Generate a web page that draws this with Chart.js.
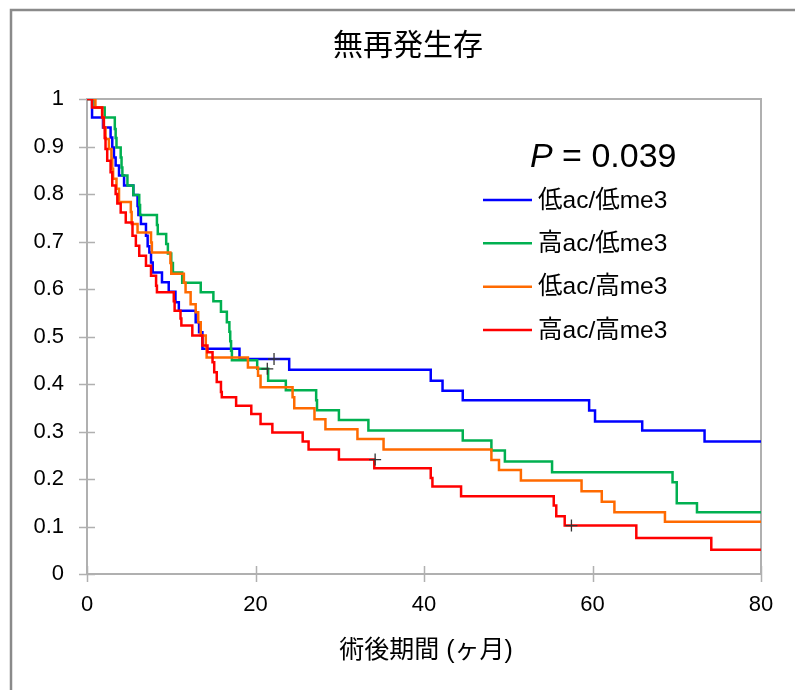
<!DOCTYPE html>
<html><head><meta charset="utf-8">
<script src="https://cdn.jsdelivr.net/npm/chart.js@4.4.1/dist/chart.umd.min.js"></script>
<style>html,body{margin:0;padding:0;background:#fff;} canvas{display:block;}</style>
</head><body>
<canvas id="c" width="795" height="690"></canvas>
<script>
const chartTitle = '無再発生存';
const xAxisTitle = '術後期間 (ヶ月)';
const pLabel = 'P';
const pValue = ' = 0.039';
const seriesLabels = ['低ac/低me3', '高ac/低me3', '低ac/高me3', '高ac/高me3'];
const seriesColors = ['#0000ff', '#00b050', '#ff6a00', '#ff0000'];

const xTicks = [0, 20, 40, 60, 80];
const xTickLabels = ['0', '20', '40', '60', '80'];
const yTicks = [0, 0.1, 0.2, 0.3, 0.4, 0.5, 0.6, 0.7, 0.8, 0.9, 1];
const yTickLabels = ['0', '0.1', '0.2', '0.3', '0.4', '0.5', '0.6', '0.7', '0.8', '0.9', '1'];

// 低ac/低me3 (blue)
const blueT = [0, 0.6, 1.9, 2.8, 3.0, 3.2, 3.4, 3.8, 4.4, 5.5, 6.0, 6.1, 6.4, 7.0, 7.2, 7.4, 7.6, 7.8, 8.9, 9.7, 10.5, 10.9, 12.9, 13.3, 13.7, 18.1, 24.0, 40.8, 42.2, 44.6, 59.6, 60.3, 65.9, 73.3, 80];
const blueS = [1, 0.961, 0.94, 0.919, 0.898, 0.877, 0.86, 0.839, 0.818, 0.798, 0.775, 0.756, 0.737, 0.712, 0.69, 0.677, 0.656, 0.635, 0.614, 0.594, 0.572, 0.554, 0.53, 0.509, 0.474, 0.4526, 0.43, 0.407, 0.386, 0.366, 0.344, 0.321, 0.302, 0.279, 0.279];

// 高ac/低me3 (green)
const greenT = [0, 0.9, 2.1, 3.3, 3.4, 3.5, 4.0, 4.1, 4.2, 4.8, 5.5, 6.2, 6.3, 8.3, 8.4, 9.4, 9.6, 10.0, 10.2, 11.3, 13.5, 15.0, 15.9, 16.6, 16.9, 17.0, 17.1, 17.2, 20.2, 21.5, 23.6, 27.2, 27.3, 29.9, 33.4, 44.6, 48.0, 49.6, 55.2, 69.5, 70.0, 72.4, 80];
const greenS = [1, 0.982, 0.961, 0.937, 0.918, 0.898, 0.877, 0.856, 0.839, 0.818, 0.798, 0.777, 0.756, 0.735, 0.716, 0.695, 0.675, 0.655, 0.635, 0.613, 0.593, 0.574, 0.552, 0.53, 0.51, 0.49, 0.47, 0.45, 0.432, 0.407, 0.387, 0.366, 0.345, 0.324, 0.302, 0.281, 0.26, 0.237, 0.214, 0.193, 0.149, 0.13, 0.13];

// 低ac/高me3 (orange)
const orangeT = [0, 1.0, 1.8, 2.0, 2.2, 2.6, 2.9, 3.0, 3.1, 3.5, 3.8, 5.2, 5.3, 6.0, 7.6, 7.7, 9.9, 10.0, 11.5, 11.7, 12.3, 12.9, 13.2, 13.5, 14.1, 14.2, 19.1, 20.3, 20.6, 24.4, 24.6, 27.0, 28.3, 32.1, 35.2, 48.0, 48.9, 51.5, 58.7, 61.1, 62.6, 68.6, 80];
const orangeS = [1, 0.982, 0.961, 0.94, 0.916, 0.895, 0.874, 0.853, 0.832, 0.811, 0.783, 0.762, 0.737, 0.719, 0.698, 0.677, 0.655, 0.632, 0.613, 0.593, 0.568, 0.551, 0.53, 0.502, 0.479, 0.456, 0.435, 0.4175, 0.393, 0.372, 0.349, 0.326, 0.305, 0.284, 0.262, 0.24, 0.219, 0.197, 0.174, 0.152, 0.13, 0.11, 0.11];

// 高ac/高me3 (red)
const redT = [0, 0.6, 1.8, 2.0, 2.1, 2.2, 2.4, 2.8, 3.0, 3.4, 3.6, 4.0, 4.6, 5.4, 5.8, 6.2, 7.0, 7.6, 8.2, 8.3, 10.3, 10.4, 11.1, 11.2, 12.5, 13.7, 14.3, 14.9, 15.1, 15.4, 15.9, 16.0, 17.7, 19.5, 20.6, 22.0, 25.6, 26.3, 29.9, 34.1, 40.8, 41.0, 44.4, 55.4, 55.7, 56.7, 65.2, 74.1, 80];
const redS = [1, 0.982, 0.961, 0.94, 0.918, 0.895, 0.87, 0.846, 0.818, 0.8, 0.78, 0.761, 0.74, 0.712, 0.691, 0.67, 0.649, 0.628, 0.607, 0.593, 0.574, 0.554, 0.538, 0.523, 0.502, 0.481, 0.467, 0.446, 0.425, 0.404, 0.383, 0.372, 0.354, 0.337, 0.316, 0.298, 0.279, 0.262, 0.241, 0.2225, 0.202, 0.184, 0.1635, 0.144, 0.1215, 0.102, 0.076, 0.051, 0.051];

// censored marks (+)
const censorT = [22.2, 21.4, 34.2, 57.5];
const censorS = [0.4526, 0.432, 0.241, 0.102];

const FONT = '"Liberation Sans", "Noto Sans CJK JP", Arial, sans-serif';
const toPts = (T, S) => T.map((t, i) => ({x: t, y: S[i]}));
const seriesT = [blueT, greenT, orangeT, redT];
const seriesS = [blueS, greenS, orangeS, redS];

const datasets = seriesLabels.map((lab, k) => ({
  label: lab,
  data: toPts(seriesT[k], seriesS[k]),
  borderColor: seriesColors[k],
  backgroundColor: seriesColors[k],
  borderWidth: 2.5,
  stepped: 'before',
  pointRadius: 0,
  fill: false,
  order: 4 - k
}));
datasets.push({
  type: 'scatter',
  label: 'censored',
  data: toPts(censorT, censorS),
  pointStyle: 'cross',
  pointRadius: 6,
  borderColor: '#333333',
  borderWidth: 1.3,
  showLine: false,
  order: 0
});

const AXIS = '#b0b0b0';
const decor = {
  id: 'decor',
  beforeDraw(chart) {
    const ctx = chart.ctx;
    ctx.save();
    ctx.strokeStyle = '#8a8a8a';
    ctx.lineWidth = 2.5;
    ctx.beginPath();
    ctx.moveTo(11, 690); ctx.lineTo(11, 10); ctx.lineTo(795, 10);
    ctx.stroke();
    ctx.restore();
  },
  beforeDatasetsDraw(chart) {
    const ctx = chart.ctx, a = chart.chartArea;
    const xs = chart.scales.x, ys = chart.scales.y;
    ctx.save();
    ctx.strokeStyle = AXIS;
    ctx.lineWidth = 2;
    ctx.beginPath();
    ctx.moveTo(a.left, a.top); ctx.lineTo(a.right, a.top); ctx.lineTo(a.right, a.bottom);
    ctx.stroke();
    ctx.lineWidth = 1.5;
    ctx.beginPath();
    yTicks.forEach(v => { const p = Math.round(ys.getPixelForValue(v)) + 0.5; ctx.moveTo(a.left - 8, p); ctx.lineTo(a.left + 8, p); });
    xTicks.forEach(v => { const p = Math.round(xs.getPixelForValue(v)) + 0.5; ctx.moveTo(p, a.bottom - 8); ctx.lineTo(p, a.bottom + 8); });
    ctx.stroke();
    ctx.restore();
  },
  afterDraw(chart) {
    const ctx = chart.ctx;
    ctx.save();
    ctx.fillStyle = '#000';
    ctx.textBaseline = 'middle';
    ctx.textAlign = 'center';
    ctx.font = '30px ' + FONT;
    ctx.fillText(chartTitle, 408, 47);
    ctx.font = '25px ' + FONT;
    ctx.fillText(xAxisTitle, 426, 651);
    // P value
    ctx.textAlign = 'left';
    ctx.font = 'italic 34px ' + FONT;
    ctx.fillText(pLabel, 530, 158);
    const pw = ctx.measureText(pLabel).width;
    ctx.font = '34px ' + FONT;
    ctx.fillText(pValue, 530 + pw, 158);
    // legend
    const rows = [200, 243.3, 286.7, 330];
    ctx.font = '24.5px ' + FONT;
    seriesLabels.forEach((lab, k) => {
      ctx.strokeStyle = seriesColors[k];
      ctx.lineWidth = 2.5;
      ctx.beginPath();
      ctx.moveTo(483, rows[k]); ctx.lineTo(532, rows[k]);
      ctx.stroke();
      ctx.fillText(lab, 538, rows[k] + 1);
    });
    ctx.restore();
  }
};

new Chart(document.getElementById('c'), {
  type: 'line',
  data: { datasets },
  options: {
    responsive: false,
    animation: false,
    events: [],
    layout: { padding: { left: 0, top: 99, right: 34, bottom: 0 } },
    plugins: { legend: { display: false }, title: { display: false }, tooltip: { enabled: false } },
    scales: {
      x: {
        type: 'linear', min: 0, max: 80,
        afterBuildTicks: s => { s.ticks = xTicks.map(v => ({value: v})); },
        afterFit: s => { s.height = 116; },
        ticks: { padding: 18, color: '#000', font: { family: FONT, size: 22 }, callback: (v, i) => xTickLabels[i], maxRotation: 0 },
        grid: { display: true, drawOnChartArea: false, drawTicks: false },
        border: { display: true, color: AXIS, width: 2 }
      },
      y: {
        type: 'linear', min: 0, max: 1,
        afterBuildTicks: s => { s.ticks = yTicks.map(v => ({value: v})); },
        afterFit: s => { s.width = 87; },
        ticks: { padding: 23, color: '#000', font: { family: FONT, size: 22 }, callback: (v, i) => yTickLabels[i] },
        grid: { display: true, drawOnChartArea: false, drawTicks: false },
        border: { display: true, color: AXIS, width: 2 }
      }
    }
  },
  plugins: [decor]
});
</script>
</body></html>
